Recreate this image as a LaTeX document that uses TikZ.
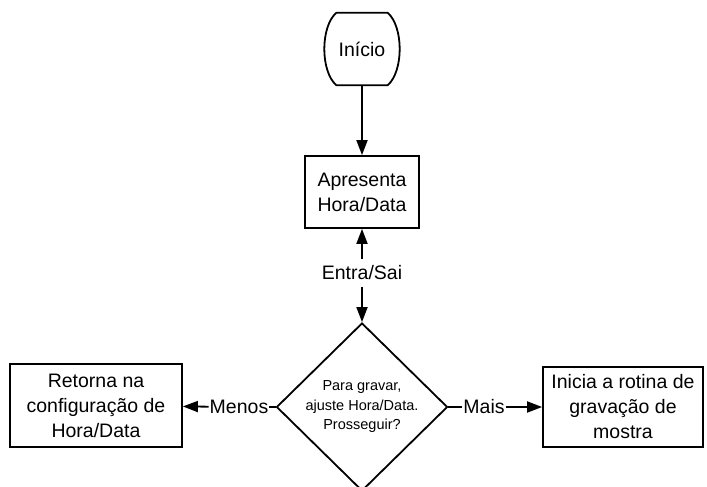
\documentclass[tikz,border=0pt]{standalone}
\usepackage{fontspec}
\setmainfont{Liberation Sans}
\usetikzlibrary{shapes.geometric,arrows.meta,positioning}
\begin{document}
\begin{tikzpicture}[x=1pt,y=-1pt,
  txt/.style={font=\fontsize{19.5}{25}\selectfont},
  box/.style={txt,draw,line width=1.8pt,align=center,inner sep=0pt},
  decision/.style={draw,diamond,line width=1.8pt,align=center,inner sep=0pt,
    minimum width=171pt,minimum height=168pt,font=\fontsize{14.5}{19.5}\selectfont},
  lbl/.style={txt,inner sep=1pt},
  flow/.style={line width=1.8pt,-{Triangle[length=15pt,width=11pt]}},
  link/.style={line width=1.8pt}]
\useasboundingbox (0,0) rectangle (707,487);
%% start terminal, drawn by hand round an empty node
\node [txt,minimum width=71pt,minimum height=72pt,inner sep=0pt] (inicio) at (362,49) {Início};
\draw [link,line join=round]
  ([xshift=10pt]inicio.north west) -- ([xshift=-10pt]inicio.north east)
  .. controls ([xshift=6pt,yshift=-14pt]inicio.north east) and ([xshift=6pt,yshift=14pt]inicio.south east) .. ([xshift=-10pt]inicio.south east)
  -- ([xshift=10pt]inicio.south west)
  .. controls ([xshift=-6pt,yshift=14pt]inicio.south west) and ([xshift=-6pt,yshift=-14pt]inicio.north west) .. cycle;
\node [box,minimum width=114pt,minimum height=72pt] (apres) at (362,192) {Apresenta\\Hora/Data};
\node [lbl,inner ysep=7pt] (es) at (362,273) {Entra/Sai};
\node [decision] (diam) at (362,407) {Para gravar,\\ajuste Hora/Data.\\Prosseguir?};
\node [lbl] (menos) at (239,407) {Menos};
\node [lbl] (mais) at (484,407) {Mais};
\node [box,minimum width=172pt,minimum height=83pt] (retorna) at (96,405.5) {Retorna na\\configuração de\\Hora/Data};
\node [box,minimum width=160pt,minimum height=80pt] (inicia) at (623,407) {Inicia a rotina de\\gravação de\\mostra};
%% connectors
\draw [flow] (inicio) -- (apres);
\draw [flow] (es) -- (apres);
\draw [flow] (es) -- (diam);
\draw [link] (diam.west) -- (menos);
\draw [flow] (menos) -- (retorna);
\draw [link] (diam.east) -- (mais);
\draw [flow] (mais) -- (inicia);
\end{tikzpicture}
\end{document}
